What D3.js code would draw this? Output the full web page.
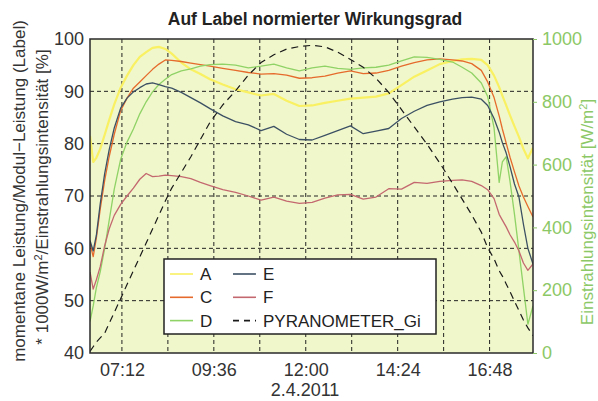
<!DOCTYPE html>
<html>
<head>
<meta charset="utf-8">
<script src="https://cdn.jsdelivr.net/npm/d3@7"></script>
<style>
  body { margin: 0; background: #ffffff; }
  svg { display: block; font-family: "Liberation Sans", Arial, sans-serif; }
</style>
</head>
<body>
<svg id="chart" width="598" height="401"></svg>
<script>
// time of day (2.4.2011)
const times = ["06:22","06:27","06:32","06:38","06:45","06:52","07:00","07:10","07:20","07:30",
  "07:40","07:50","08:00","08:10","08:20","08:30","08:45","09:00","09:15","09:30",
  "09:50","10:10","10:30","10:50","11:10","11:30","11:50","12:10","12:30","12:50",
  "13:10","13:30","13:50","14:10","14:30","14:50","15:10","15:30","15:50","16:05",
  "16:20","16:35","16:45","16:55","17:03","17:08","17:14","17:20","17:27","17:34",
  "17:41","17:48","17:56"];

// normalised efficiency [%]
const seriesA = [81.5,76.5,77.3,79,81.7,84.5,87.5,90.7,93,95,
  96.6,97.5,98.3,98.5,98.1,97.2,95.5,94.2,93.3,92.3,
  91.3,90.4,89.8,89.2,89.5,88.2,87.2,87.3,87.8,88.2,
  88.6,88.8,89,89.6,91.2,92.8,94,95.2,95.8,96.1,
  96.2,96,95,93,90.8,89.2,87.3,85.4,83.3,81.3,
  79,77.2,79.2];
const seriesC = [61,58.4,62,67.5,73,77.5,81.8,86.3,88.7,90.6,
  91.8,93,94.2,95.2,96,95.9,95.7,95.4,95.1,94.8,
  94.4,94,93.6,93.3,93.4,93.1,92.5,92.6,92.9,93.5,
  93.9,93.4,93.5,94,94.8,95.5,96,96.2,96,95.8,
  95.3,94,91.8,88.8,85.3,82.8,80.1,77.4,74.6,71.9,
  69.8,68,66];
const seriesD = [46,49,52.5,55.5,60,65.3,71.3,77,80.3,82.8,
  85.7,88,89.9,91.3,92.3,93.2,93.9,94.3,94.8,95.1,
  95.2,95,94.5,94.8,95.2,94.5,93.9,94.5,94.8,94.4,
  94.2,94.5,94.6,95,95.8,96.6,96.5,96.1,95.6,94.6,
  93.5,91.6,89,83,72.6,76.5,77.5,72.8,66.5,59.5,
  52.5,45.5,49];
const seriesE = [61.5,59.5,62.5,68.5,74.3,78.8,83,86.8,88.7,89.9,
  90.7,91.4,91.6,91.3,90.9,90.6,89.8,88.8,87.8,86.7,
  85.3,84.2,83.6,82.5,83.3,81.8,80.8,80.7,81.6,82.5,
  83.4,81.9,82.4,82.9,84.8,86.2,87.3,88,88.5,88.8,
  88.9,88.5,87.3,84.8,82.2,80.2,78.2,75.6,72.3,69.8,
  64.6,60,57];
const seriesF = [55.5,52.2,54,56.5,60.5,63.7,66.3,68.4,70,71.5,
  73.2,74.3,73.7,73.8,74,73.9,73.7,73.3,72.6,72,
  71.2,70.7,70,69.2,69.8,69,68.6,68.8,69.6,70.2,
  70.3,69.4,69.8,71.4,71.3,72.6,72.4,72.8,73,73.1,
  72.8,72,71.2,69.5,66.5,65.4,64.1,62.6,61.2,59.5,
  57.2,55.8,57];
// irradiance [W/m2]
const pyranometer = [5,20,35,48,63,94,129,173,218,262,
  306,350,395,439,484,525,575,625,680,735,
  790,835,885,925,950,968,976,980,975,958,
  935,910,875,830,775,720,665,605,540,490,
  440,385,335,300,262,245,220,195,165,135,
  105,80,55];

const seriesNames = ["A", "C", "D", "E", "F"];
const seriesColors = ["#f9f062", "#e56a2c", "#8fd266", "#3c5064", "#c46870"];
const leftTicks = [40, 50, 60, 70, 80, 90, 100];
const rightTicks = [0, 200, 400, 600, 800, 1000];
const timeTicks = ["07:12","08:24","09:36","10:48","12:00","13:12","14:24","15:36","16:48"];
const labelledTimes = ["07:12","09:36","12:00","14:24","16:48"];

const parse = d3.timeParse("%H:%M");
const fmt = d3.timeFormat("%H:%M");
const svg = d3.select("#chart");

const m = { left: 90, right: 533, top: 39, bottom: 353 };
const x = d3.scaleTime().domain([parse("06:22"), parse("17:56")]).range([m.left, m.right]);
const y = d3.scaleLinear().domain([40, 100]).range([m.bottom, m.top]);
const y2 = d3.scaleLinear().domain([0, 1000]).range([m.bottom, m.top]);

// plot background
svg.append("rect").attr("x", m.left).attr("y", m.top)
  .attr("width", m.right - m.left).attr("height", m.bottom - m.top)
  .attr("fill", "#f0f7ca");

svg.append("clipPath").attr("id", "clip").append("rect")
  .attr("x", m.left).attr("y", m.top)
  .attr("width", m.right - m.left).attr("height", m.bottom - m.top);

// grid
const grid = svg.append("g").attr("stroke", "#222").attr("stroke-width", 1)
  .attr("stroke-dasharray", "4,3");
grid.selectAll(".vg").data(timeTicks).enter().append("line")
  .attr("x1", d => x(parse(d))).attr("x2", d => x(parse(d)))
  .attr("y1", m.top).attr("y2", m.bottom);
grid.selectAll(".hg").data(leftTicks.slice(1, -1)).enter().append("line")
  .attr("x1", m.left).attr("x2", m.right)
  .attr("y1", d => y(d)).attr("y2", d => y(d));

// series
const allSeries = [seriesA, seriesC, seriesD, seriesE, seriesF];
const line = d3.line().x((d, i) => x(parse(times[i]))).y(d => y(d));
const plot = svg.append("g").attr("clip-path", "url(#clip)");
allSeries.forEach((vals, k) => {
  plot.append("path").datum(vals)
    .attr("fill", "none")
    .attr("stroke", seriesColors[k])
    .attr("stroke-width", k === 0 ? 2.2 : 1.3)
    .attr("stroke-linejoin", "round")
    .attr("d", line);
});
const pyLine = d3.line().x((d, i) => x(parse(times[i]))).y(d => y2(d));
plot.append("path").datum(pyranometer)
  .attr("fill", "none").attr("stroke", "#1a1a1a").attr("stroke-width", 1.2)
  .attr("stroke-dasharray", "7,5").attr("d", pyLine);

// frame
svg.append("rect").attr("x", m.left).attr("y", m.top)
  .attr("width", m.right - m.left).attr("height", m.bottom - m.top)
  .attr("fill", "none").attr("stroke", "#2a2a2a").attr("stroke-width", 1.5);

// axes
const xAxis = svg.append("g").attr("transform", `translate(0,${m.bottom})`)
  .call(d3.axisBottom(x).tickValues(labelledTimes.map(parse)).tickFormat(fmt).tickSize(0).tickPadding(10));
const yAxis = svg.append("g").attr("transform", `translate(${m.left},0)`)
  .call(d3.axisLeft(y).tickValues(leftTicks).tickSize(0).tickPadding(6));
const yAxis2 = svg.append("g").attr("transform", `translate(${m.right},0)`)
  .call(d3.axisRight(y2).tickValues(rightTicks).tickFormat(d3.format("d")).tickSize(4).tickPadding(5));
[xAxis, yAxis, yAxis2].forEach(a => {
  a.select(".domain").remove();
  a.selectAll("text").attr("font-size", 18).attr("font-family", "Liberation Sans, Arial, sans-serif");
});
xAxis.selectAll("text").attr("fill", "#333");
yAxis.selectAll("text").attr("fill", "#333");
yAxis2.selectAll("text").attr("fill", "#8cc866");
yAxis2.selectAll("line").attr("stroke", "#8cc866");

// titles
svg.append("text").attr("x", 315).attr("y", 25).attr("text-anchor", "middle")
  .attr("font-size", 17.5).attr("font-weight", "bold").attr("fill", "#222")
  .text("Auf Label normierter Wirkungsgrad");
svg.append("text").attr("x", 305).attr("y", 396).attr("text-anchor", "middle")
  .attr("font-size", 18).attr("fill", "#333").text("2.4.2011");
svg.append("text").attr("transform", "translate(25,191) rotate(-90)")
  .attr("text-anchor", "middle").attr("font-size", 17).attr("fill", "#333")
  .text("momentane Leistung/Modul−Leistung (Label)");
const l2 = svg.append("text").attr("transform", "translate(48,197) rotate(-90)")
  .attr("text-anchor", "middle").attr("font-size", 17).attr("fill", "#333");
l2.append("tspan").text("* 1000W/m");
l2.append("tspan").attr("dy", -6).attr("font-size", 11).text("2");
l2.append("tspan").attr("dy", 6).text("/Einstrahlungsintensität [%]");
const r2 = svg.append("text").attr("transform", "translate(593,212) rotate(-90)")
  .attr("text-anchor", "middle").attr("font-size", 17).attr("fill", "#8cc866");
r2.append("tspan").text("Einstrahlungsintensität [W/m");
r2.append("tspan").attr("dy", -6).attr("font-size", 11).text("2");
r2.append("tspan").attr("dy", 6).text("]");

// legend
const legendItems = seriesNames.map((n, i) => ({ name: n, color: seriesColors[i], dash: null }))
  .concat([{ name: "PYRANOMETER_Gi", color: "#1a1a1a", dash: "6,5" }]);
const lg = svg.append("g");
lg.append("rect").attr("x", 164).attr("y", 259).attr("width", 272).attr("height", 75)
  .attr("fill", "#ffffff").attr("stroke", "#222").attr("stroke-width", 1.5);
legendItems.forEach((d, i) => {
  const col = Math.floor(i / 3), row = i % 3;
  const lx = 170 + col * 63, ly = 274 + row * 23.3;
  lg.append("line").attr("x1", lx).attr("x2", lx + 23).attr("y1", ly).attr("y2", ly)
    .attr("stroke", d.color).attr("stroke-width", 1.6)
    .attr("stroke-dasharray", d.dash);
  lg.append("text").attr("x", lx + 30).attr("y", ly + 6).attr("font-size", 17)
    .attr("fill", "#222").text(d.name);
});
</script>
</body>
</html>
